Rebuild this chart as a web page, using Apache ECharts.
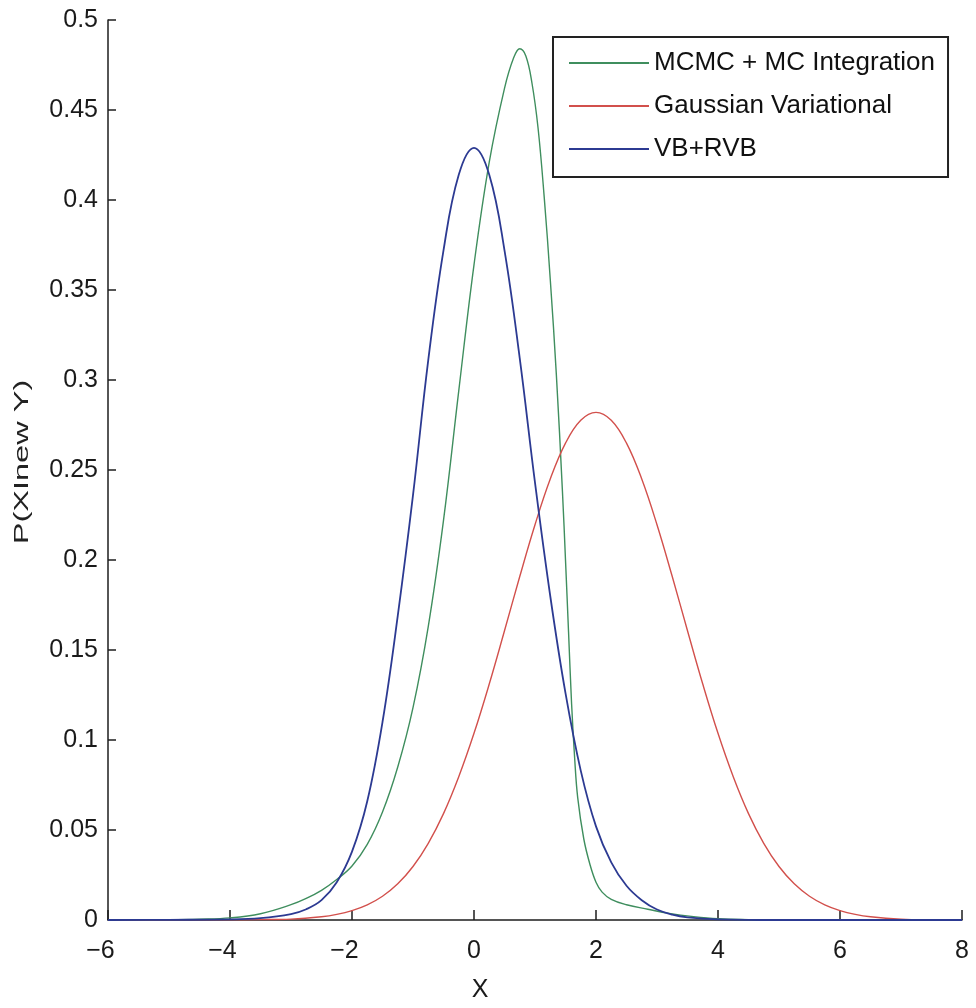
<!DOCTYPE html>
<html>
<head>
<meta charset="utf-8">
<script src="https://cdn.jsdelivr.net/npm/echarts@6/dist/echarts.min.js"></script>
<style>
html,body{margin:0;padding:0;background:#fff;}
#chart{width:976px;height:1008px;}
</style>
</head>
<body>
<div id="chart"></div>
<script>
// ---- data ----
const seriesNames = ['MCMC + MC Integration', 'Gaussian Variational', 'VB+RVB'];
const xTicks = [-6, -4, -2, 0, 2, 4, 6, 8];
const yTicks = [0, 0.05, 0.1, 0.15, 0.2, 0.25, 0.3, 0.35, 0.4, 0.45, 0.5];

const mcmcX = [-6, -5, -4.5, -4, -3.5, -3, -2.75, -2.5, -2.25, -2, -1.75, -1.5, -1.25, -1, -0.75, -0.5, -0.25, 0, 0.25, 0.5, 0.65, 0.75, 0.85, 0.95, 1.05, 1.15, 1.25, 1.35, 1.45, 1.5, 1.55, 1.6, 1.65, 1.7, 1.8, 1.9, 2, 2.1, 2.25, 2.5, 2.85, 3.2, 3.6, 4, 4.5, 5, 6, 8];
const mcmcY = [0, 0.0002, 0.0005, 0.0012, 0.0035, 0.0085, 0.012, 0.0165, 0.0225, 0.030, 0.042, 0.060, 0.085, 0.118, 0.163, 0.222, 0.294, 0.364, 0.421, 0.462, 0.479, 0.484, 0.480, 0.465, 0.440, 0.402, 0.356, 0.303, 0.238, 0.200, 0.160, 0.120, 0.090, 0.068, 0.045, 0.031, 0.021, 0.0155, 0.0115, 0.0085, 0.006, 0.0037, 0.0019, 0.0007, 0.0002, 0, 0, 0];

const gaussX = [-6, -4, -3.5, -3, -2.5, -2.25, -2, -1.75, -1.5, -1.25, -1, -0.75, -0.5, -0.25, 0, 0.25, 0.5, 0.75, 1, 1.25, 1.5, 1.75, 2, 2.25, 2.5, 2.75, 3, 3.25, 3.5, 3.75, 4, 4.25, 4.5, 4.75, 5, 5.25, 5.5, 5.75, 6, 6.25, 6.5, 7, 7.5, 8];
const gaussY = [0, 0.0001, 0.0002, 0.0005, 0.0018, 0.0031, 0.0052, 0.0084, 0.0132, 0.0201, 0.0297, 0.0426, 0.0591, 0.0796, 0.1037, 0.1311, 0.1607, 0.1908, 0.2196, 0.245, 0.2649, 0.2776, 0.282, 0.2776, 0.2649, 0.245, 0.2196, 0.1908, 0.1607, 0.1311, 0.1037, 0.0796, 0.0591, 0.0426, 0.0297, 0.0201, 0.0132, 0.0084, 0.0052, 0.0031, 0.0018, 0.0005, 0.0001, 0];

const vbX = [-6, -5, -4, -3.5, -3, -2.75, -2.5, -2.25, -2, -1.75, -1.5, -1.25, -1, -0.75, -0.5, -0.25, 0, 0.25, 0.5, 0.75, 1, 1.25, 1.5, 1.75, 2, 2.25, 2.5, 2.75, 3, 3.25, 3.5, 4, 5, 8];
const vbY = [0, 0.0001, 0.0003, 0.001, 0.0033, 0.006, 0.011, 0.021, 0.038, 0.066, 0.110, 0.169, 0.236, 0.311, 0.372, 0.414, 0.429, 0.414, 0.372, 0.312, 0.243, 0.180, 0.126, 0.083, 0.052, 0.032, 0.019, 0.011, 0.0058, 0.003, 0.0015, 0.0004, 0, 0];

const colors = ['#3f8e5e', '#d2504c', '#2c3a92'];

function pairs(xs, ys) { return xs.map((x, i) => [x, ys[i]]); }

const chart = echarts.init(document.getElementById('chart'), null, {renderer: 'canvas'});
const axisColor = '#1e1e1e';
const font = '"Liberation Sans", Arial, sans-serif';

chart.setOption({
  backgroundColor: '#ffffff',
  animation: false,
  grid: {left: 108, right: 14, top: 20, bottom: 88, containLabel: false},
  xAxis: {
    type: 'value', min: xTicks[0], max: xTicks[xTicks.length - 1], interval: 2,
    axisLine: {show: true, onZero: false, lineStyle: {color: axisColor, width: 1.5}},
    axisTick: {show: true, inside: true, length: 10, lineStyle: {color: axisColor, width: 1.5}},
    splitLine: {show: false},
    axisLabel: {
      color: '#1a1a1a', fontSize: 25, fontFamily: font, margin: 19,
      formatter: v => (v < 0 ? '{m|\u2212}{d|' + Math.abs(v) + '}{p|}' : '{d|' + v + '}'),
      rich: {
        m: {fontSize: 25, fontFamily: font, color: '#1a1a1a'},
        d: {fontSize: 25, fontFamily: font, color: '#1a1a1a'},
        p: {width: 15}
      }
    }
  },
  yAxis: {
    type: 'value', min: yTicks[0], max: yTicks[yTicks.length - 1], interval: 0.05,
    axisLine: {show: true, onZero: false, lineStyle: {color: axisColor, width: 1.5}},
    axisTick: {show: true, inside: true, length: 8, lineStyle: {color: axisColor, width: 1.5}},
    splitLine: {show: false},
    axisLabel: {
      color: '#1a1a1a', fontSize: 25, fontFamily: font, margin: 10,
      formatter: v => String(parseFloat(v.toFixed(2)))
    }
  },
  legend: {
    data: seriesNames,
    orient: 'vertical',
    left: 553, top: 37,
    icon: 'rect', itemWidth: 80, itemHeight: 2, itemGap: 11,
    padding: [10, 13, 12, 16],
    borderColor: '#222', borderWidth: 2, backgroundColor: '#fff',
    textStyle: {fontSize: 26, fontFamily: font, color: '#111', lineHeight: 32}
  },
  graphic: [
    {type: 'text', x: 22, y: 462, rotation: Math.PI / 2, scaleX: 1.55,
     style: {text: 'P(XInew Y)', fontSize: 21, fontFamily: font, fill: '#222', align: 'center', verticalAlign: 'middle'}},
    {type: 'text', x: 480, y: 990,
     style: {text: 'X', fontSize: 25, fontFamily: font, fill: '#1a1a1a', align: 'center', verticalAlign: 'middle'}}
  ],
  series: [
    {name: seriesNames[0], type: 'line', data: pairs(mcmcX, mcmcY), showSymbol: false, smooth: 0.4, color: colors[0], lineStyle: {width: 1.4, color: colors[0]}},
    {name: seriesNames[1], type: 'line', data: pairs(gaussX, gaussY), showSymbol: false, smooth: 0.4, color: colors[1], lineStyle: {width: 1.4, color: colors[1]}},
    {name: seriesNames[2], type: 'line', data: pairs(vbX, vbY), showSymbol: false, smooth: 0.4, color: colors[2], lineStyle: {width: 1.8, color: colors[2]}}
  ]
});
</script>
</body>
</html>
